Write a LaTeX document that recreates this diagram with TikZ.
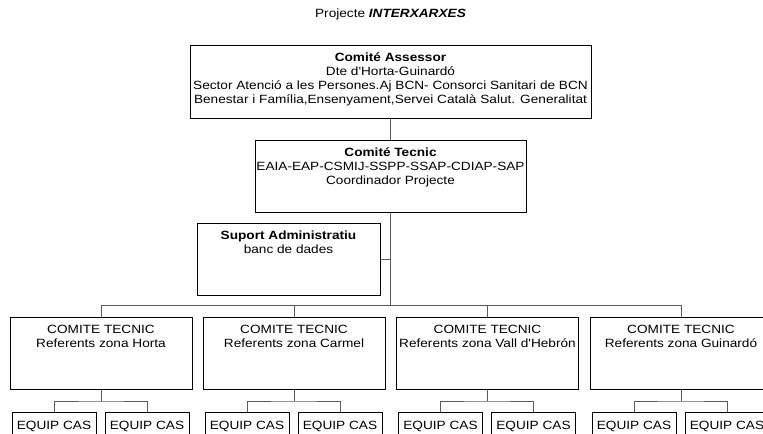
\documentclass[tikz,border=0pt]{standalone}
\usepackage{fontspec}
\setmainfont{Liberation Sans}[FakeStretch=1.14, Ligatures=TeXOff]
\newcommand\boxlines[1]{\parbox[t]{440bp}{\centering\fontsize{12}{14}\selectfont #1}}
\begin{document}
\begin{tikzpicture}[x=1bp,y=-1bp,
  box/.style={draw=black, line width=0.9bp, inner sep=0pt, fill=white},
  txt/.style={inner sep=0pt, anchor=base},
  conn/.style={draw=black!65, line width=0.9bp}]
\useasboundingbox (0,0) rectangle (763,434);
\clip (0,0) rectangle (763,434);

% title
\node[txt] (title) at (390.5,18) {\boxlines{Projecte \textbf{\textit{INTERXARXES}}}};

% Comite Assessor
\node[box, anchor=north, minimum width=401bp, minimum height=73bp] (ca) at (390.5,45) {};
\node[txt] (cat) at (390.5,62) {\boxlines{\textbf{Comité Assessor}\\Dte d'Horta-Guinardó\\Sector Atenció a les Persones.Aj BCN- Consorci Sanitari de BCN\\Benestar i Família,Ensenyament,Servei Català Salut. Generalitat}};

% Comite Tecnic
\node[box, anchor=north, minimum width=271bp, minimum height=72bp] (ct) at (390.5,140) {};
\node[txt] (ctt) at (390.5,157) {\boxlines{\textbf{Comité Tecnic}\\EAIA-EAP-CSMIJ-SSPP-SSAP-CDIAP-SAP\\Coordinador Projecte}};

% Suport Administratiu
\node[box, anchor=north west, minimum width=183bp, minimum height=72bp] (sa) at (197,223) {};
\node[txt] (sat) at (288.5,240) {\boxlines{\textbf{Suport Administratiu}\\banc de dades}};

\coordinate (bus) at (390.5,305.5);
\coordinate (br) at (0,401);

\draw[conn] (ca.south) -- (ct.north);
\draw[conn] (ct.south) -- (bus);
\draw[conn] (sa.east) -- (sa.east -| ct.south);

\foreach \i/\c/\z in {1/101/Horta,2/294/Carmel,3/487.5/Vall d'Hebrón,4/681/Guinardó}{
  \node[box, anchor=north, minimum width=182bp, minimum height=72bp] (h\i) at (\c,317) {};
  \node[txt] (ht\i) at (\c,334) {\boxlines{COMITE TECNIC\\Referents zona \z}};
  \node[box, anchor=north, minimum width=84bp, minimum height=50bp] (e\i a) at (\c-47,412) {};
  \node[box, anchor=north, minimum width=84bp, minimum height=50bp] (e\i b) at (\c+46,412) {};
  \node[txt] (et\i a) at (\c-47,429) {\boxlines{EQUIP CAS}};
  \node[txt] (et\i b) at (\c+46,429) {\boxlines{EQUIP CAS}};
  \draw[conn] (h\i.south) -- (h\i.south |- br);
  \draw[conn] (e\i a.north) |- (h\i.south |- br) -| (e\i b.north);
}
\draw[conn] (h1.north) |- (bus) -| (h4.north);
\draw[conn] (h2.north) -- (h2.north |- bus);
\draw[conn] (h3.north) -- (h3.north |- bus);
\end{tikzpicture}
\end{document}
